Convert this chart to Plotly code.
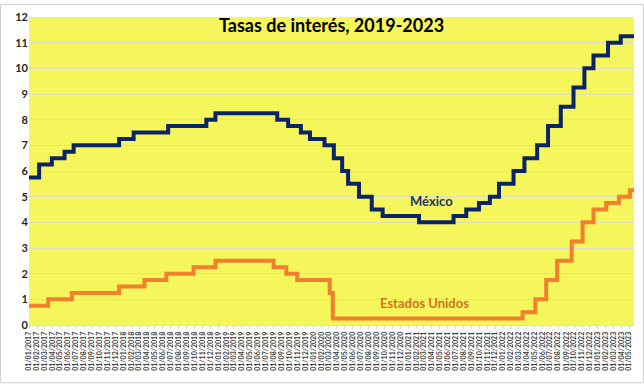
import plotly.graph_objects as go
import pandas as pd

# Banxico target rate (change dates and new level)
mx_dates = ["2017-01-01", "2017-02-09", "2017-03-30", "2017-05-18", "2017-06-22",
            "2017-12-14", "2018-02-08", "2018-06-21", "2018-11-15", "2018-12-20",
            "2019-08-15", "2019-09-26", "2019-11-14", "2019-12-19", "2020-02-13",
            "2020-03-20", "2020-04-21", "2020-05-14", "2020-06-25", "2020-08-13",
            "2020-09-24", "2021-02-11", "2021-06-24", "2021-08-12", "2021-09-30",
            "2021-11-11", "2021-12-16", "2022-02-10", "2022-03-24", "2022-05-12",
            "2022-06-23", "2022-08-11", "2022-09-29", "2022-11-10", "2022-12-15",
            "2023-02-09", "2023-03-30", "2023-05-20"]
mx_values = [5.75, 6.25, 6.50, 6.75, 7.00,
             7.25, 7.50, 7.75, 8.00, 8.25,
             8.00, 7.75, 7.50, 7.25, 7.00,
             6.50, 6.00, 5.50, 5.00, 4.50,
             4.25, 4.00, 4.25, 4.50, 4.75,
             5.00, 5.50, 6.00, 6.50, 7.00,
             7.75, 8.50, 9.25, 10.00, 10.50,
             11.00, 11.25, 11.25]

# US Fed funds (upper bound)
us_dates = ["2017-01-01", "2017-03-16", "2017-06-15", "2017-12-14", "2018-03-22",
            "2018-06-14", "2018-09-27", "2018-12-20", "2019-08-01", "2019-09-19",
            "2019-10-31", "2020-03-04", "2020-03-16", "2022-03-17", "2022-05-05",
            "2022-06-16", "2022-07-28", "2022-09-22", "2022-11-03", "2022-12-15",
            "2023-02-02", "2023-03-23", "2023-05-04", "2023-05-20"]
us_values = [0.75, 1.00, 1.25, 1.50, 1.75,
             2.00, 2.25, 2.50, 2.25, 2.00,
             1.75, 1.25, 0.25, 0.50, 1.00,
             1.75, 2.50, 3.25, 4.00, 4.50,
             4.75, 5.00, 5.25, 5.25]

month_ticks = pd.date_range("2017-01-01", "2023-05-01", freq="MS")
tick_labels = [d.strftime("%d/%m/%Y") for d in month_ticks]
y_ticks = list(range(0, 13))

fig = go.Figure()
fig.add_trace(go.Scatter(x=us_dates, y=us_values, mode="lines", line_shape="hv",
                         line=dict(color="#F07F2E", width=4), name="Estados Unidos"))
fig.add_trace(go.Scatter(x=mx_dates, y=mx_values, mode="lines", line_shape="hv",
                         line=dict(color="#0B2468", width=4), name="México"))

W, H = 644, 384
ml, mr, mt, mb = 29, 10, 13, 59
pw, ph = W - ml - mr, H - mt - mb

fig.update_layout(
    width=W, height=H,
    margin=dict(l=ml, r=mr, t=mt, b=mb),
    paper_bgcolor="white",
    plot_bgcolor="#F5F55C",
    showlegend=False,
    font=dict(family="Lato, 'Open Sans', sans-serif"),
    xaxis=dict(
        type="date",
        range=["2017-01-01", "2023-05-20"],
        tickvals=list(month_ticks), ticktext=tick_labels,
        tickangle=-90,
        tickfont=dict(size=7, color="#404040", family="Lato, sans-serif", weight="bold"),
        showgrid=False, zeroline=False,
        ticks="outside", ticklen=3, tickcolor="#D9D9D9",
        showline=True, linecolor="#D9D9D9", linewidth=1,
    ),
    yaxis=dict(
        range=[0, 12],
        tickvals=y_ticks,
        tickfont=dict(size=11, color="#262626", family="Lato, sans-serif", weight="bold"),
        showgrid=True, gridcolor="#DCDCC8", gridwidth=1,
        zeroline=False, showline=False, ticks="",
    ),
    annotations=[
        dict(text="<b>Tasas de interés, 2019-2023</b>", xref="paper", yref="paper",
             x=(331 - ml) / pw, y=1 - (21 - mt) / ph,
             showarrow=False, font=dict(size=18, color="#000000"),
             xanchor="center", yanchor="middle"),
        dict(text="<b>México</b>", xref="paper", yref="y",
             x=(431 - ml) / pw, y=4.85, showarrow=False,
             font=dict(size=13, color="#1F3468"), xanchor="center", yanchor="middle"),
        dict(text="<b>Estados Unidos</b>", xref="paper", yref="y",
             x=(424 - ml) / pw, y=0.85, showarrow=False,
             font=dict(size=13, color="#D2741F"), xanchor="center", yanchor="middle"),
    ],
    shapes=[
        dict(type="rect", xref="paper", yref="paper",
             x0=(0.5 - ml) / pw, x1=(W - 0.5 - ml) / pw,
             y0=-(mb - 0.5) / ph, y1=1 + (mt - 0.5) / ph,
             line=dict(color="#D0D0D0", width=1), layer="below"),
    ],
)

fig.write_html("out.html")
